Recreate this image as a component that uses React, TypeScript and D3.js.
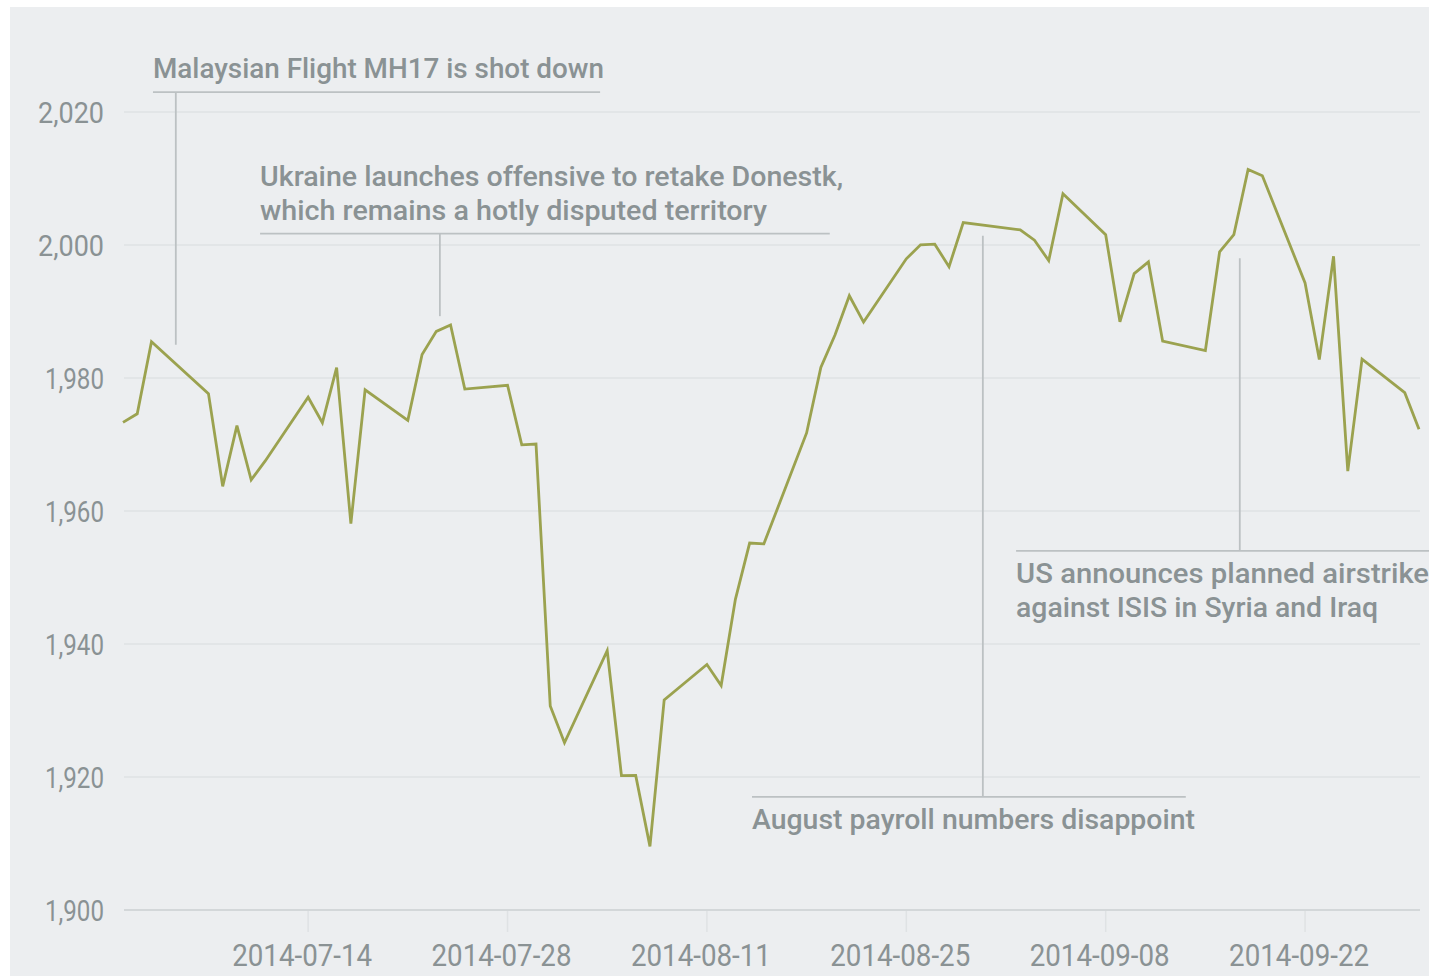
import React from "react";
import * as d3 from "d3";

// S&P 500 closing values, July–September 2014
const dates: string[] = [
  "2014-07-01", "2014-07-02", "2014-07-03", "2014-07-07", "2014-07-08", "2014-07-09", "2014-07-10", "2014-07-11",
  "2014-07-14", "2014-07-15", "2014-07-16", "2014-07-17", "2014-07-18", "2014-07-21", "2014-07-22", "2014-07-23",
  "2014-07-24", "2014-07-25", "2014-07-28", "2014-07-29", "2014-07-30", "2014-07-31", "2014-08-01", "2014-08-04",
  "2014-08-05", "2014-08-06", "2014-08-07", "2014-08-08", "2014-08-11", "2014-08-12", "2014-08-13", "2014-08-14",
  "2014-08-15", "2014-08-18", "2014-08-19", "2014-08-20", "2014-08-21", "2014-08-22", "2014-08-25", "2014-08-26",
  "2014-08-27", "2014-08-28", "2014-08-29", "2014-09-02", "2014-09-03", "2014-09-04", "2014-09-05", "2014-09-08",
  "2014-09-09", "2014-09-10", "2014-09-11", "2014-09-12", "2014-09-15", "2014-09-16", "2014-09-17", "2014-09-18",
  "2014-09-19", "2014-09-22", "2014-09-23", "2014-09-24", "2014-09-25", "2014-09-26", "2014-09-29", "2014-09-30",
];
const closes: number[] = [
  1973.32, 1974.62, 1985.44, 1977.65, 1963.71, 1972.83, 1964.68, 1967.57,
  1977.1, 1973.28, 1981.57, 1958.12, 1978.22, 1973.63, 1983.53, 1987.01,
  1987.98, 1978.34, 1978.91, 1969.95, 1970.07, 1930.67, 1925.15, 1938.99,
  1920.21, 1920.24, 1909.57, 1931.59, 1936.92, 1933.75, 1946.72, 1955.18,
  1955.06, 1971.74, 1981.6, 1986.51, 1992.37, 1988.4, 1997.92, 2000.02,
  2000.12, 1996.74, 2003.37, 2002.28, 2000.72, 1997.65, 2007.71, 2001.54,
  1988.44, 1995.69, 1997.45, 1985.54, 1984.13, 1998.98, 2001.57, 2011.36,
  2010.4, 1994.29, 1982.77, 1998.3, 1965.99, 1982.85, 1977.8, 1972.29,
];
const yTicks: number[] = [1900, 1920, 1940, 1960, 1980, 2000, 2020];
const xTickLabels: string[] = ["2014-07-14", "2014-07-28", "2014-08-11", "2014-08-25", "2014-09-08", "2014-09-22"];

// annotations: text lines, rule span (dates), rule value, leader date and leader end value
const annotationLines: string[][] = [
  ["Malaysian Flight MH17 is shot down"],
  ["Ukraine launches offensive to retake Donestk,", "which remains a hotly disputed territory"],
  ["August payroll numbers disappoint"],
  ["US announces planned airstrikes", "against ISIS in Syria and Iraq"],
];
const annotationRuleStart: string[] = ["2014-07-03T02:30Z", "2014-07-10T15:00Z", "2014-08-14T04:00Z", "2014-09-01T17:00Z"];
const annotationRuleEnd: string[] = ["2014-08-03T12:00Z", "2014-08-19T15:00Z", "2014-09-13T15:00Z", "2014-10-02T00:00Z"];
const annotationRuleValue: number[] = [2023, 2001.7, 1917, 1954];
const annotationLeaderDate: string[] = ["2014-07-04T17:00Z", "2014-07-23T06:00Z", "2014-08-30T09:00Z", "2014-09-17T10:00Z"];
const annotationLeaderEnd: number[] = [1985, 1989.3, 2001.4, 1998];
const annotationBelow: boolean[] = [false, false, true, true];

const W = 1429;
const H = 976;
const TEXT = "#8a9294";
const FONT = "Roboto, 'DejaVu Sans', sans-serif";
const TEXT_WIDTHS: number[][] = [[451], [583, 507], [443], [428, 362]];

export default function App() {
  const parse = d3.utcParse("%Y-%m-%d");
  const x = d3
    .scaleUtc()
    .domain([parse("2014-07-01") as Date, parse("2014-09-30") as Date])
    .range([123, 1419]);
  const y = d3.scaleLinear().domain([1900, 2020]).range([910, 112]);

  const pts: [Date, number][] = dates.map((d, i) => [parse(d) as Date, closes[i]]);
  const line = d3
    .line<[Date, number]>()
    .x((d) => x(d[0]))
    .y((d) => y(d[1]));

  return (
    <svg width={W} height={H} style={{ position: "absolute", left: 0, top: 0 }} fontFamily={FONT}>
      <rect x={0} y={0} width={W} height={H} fill="#ffffff" />
      <rect x={10} y={7} width={W - 10} height={H - 7} fill="#eceef0" />
      {yTicks.map((t) => (
        <g key={t}>
          <line x1={124} x2={1420} y1={y(t)} y2={y(t)} stroke={t === 1900 ? "#d3d7d9" : "#dfe2e4"} strokeWidth={t === 1900 ? 2 : 1.5} />
          <text x={104} y={y(t) + 11} textAnchor="end" fontSize={29} fill={TEXT} textLength={t < 2000 ? 59 : 66} lengthAdjust="spacingAndGlyphs">
            {d3.format(",")(t)}
          </text>
        </g>
      ))}
      {xTickLabels.map((s) => {
        const xp = x(parse(s) as Date);
        return (
          <g key={s}>
            <line x1={xp} x2={xp} y1={911} y2={932} stroke="#dfe2e4" strokeWidth={1.5} />
            <text x={xp - 6} y={966} textAnchor="middle" fontSize={31} fill={TEXT} textLength={140} lengthAdjust="spacingAndGlyphs">
              {s}
            </text>
          </g>
        );
      })}
      <path d={line(pts) ?? ""} fill="none" stroke="#9ba24f" strokeWidth={2.8} strokeLinejoin="miter" />
      {annotationLines.map((lines, i) => {
        const xa = x(new Date(annotationRuleStart[i]));
        const xb = x(new Date(annotationRuleEnd[i]));
        const xl = x(new Date(annotationLeaderDate[i]));
        const yr = y(annotationRuleValue[i]);
        const ye = y(annotationLeaderEnd[i]);
        const n = lines.length;
        return (
          <g key={i}>
            <line x1={xa} x2={xb} y1={yr} y2={yr} stroke="#bcc1c3" strokeWidth={1.8} />
            <line x1={xl} x2={xl} y1={yr} y2={ye} stroke="#bcc1c3" strokeWidth={1.8} />
            {lines.map((t, j) => {
              const ty = annotationBelow[i] ? yr + 32 + j * 34 : yr - 14 - (n - 1 - j) * 34;
              return (
                <text key={j} x={xa} y={ty} fontSize={28} fontWeight={500} fill={TEXT} textLength={TEXT_WIDTHS[i][j]} lengthAdjust="spacingAndGlyphs">
                  {t}
                </text>
              );
            })}
          </g>
        );
      })}
    </svg>
  );
}
